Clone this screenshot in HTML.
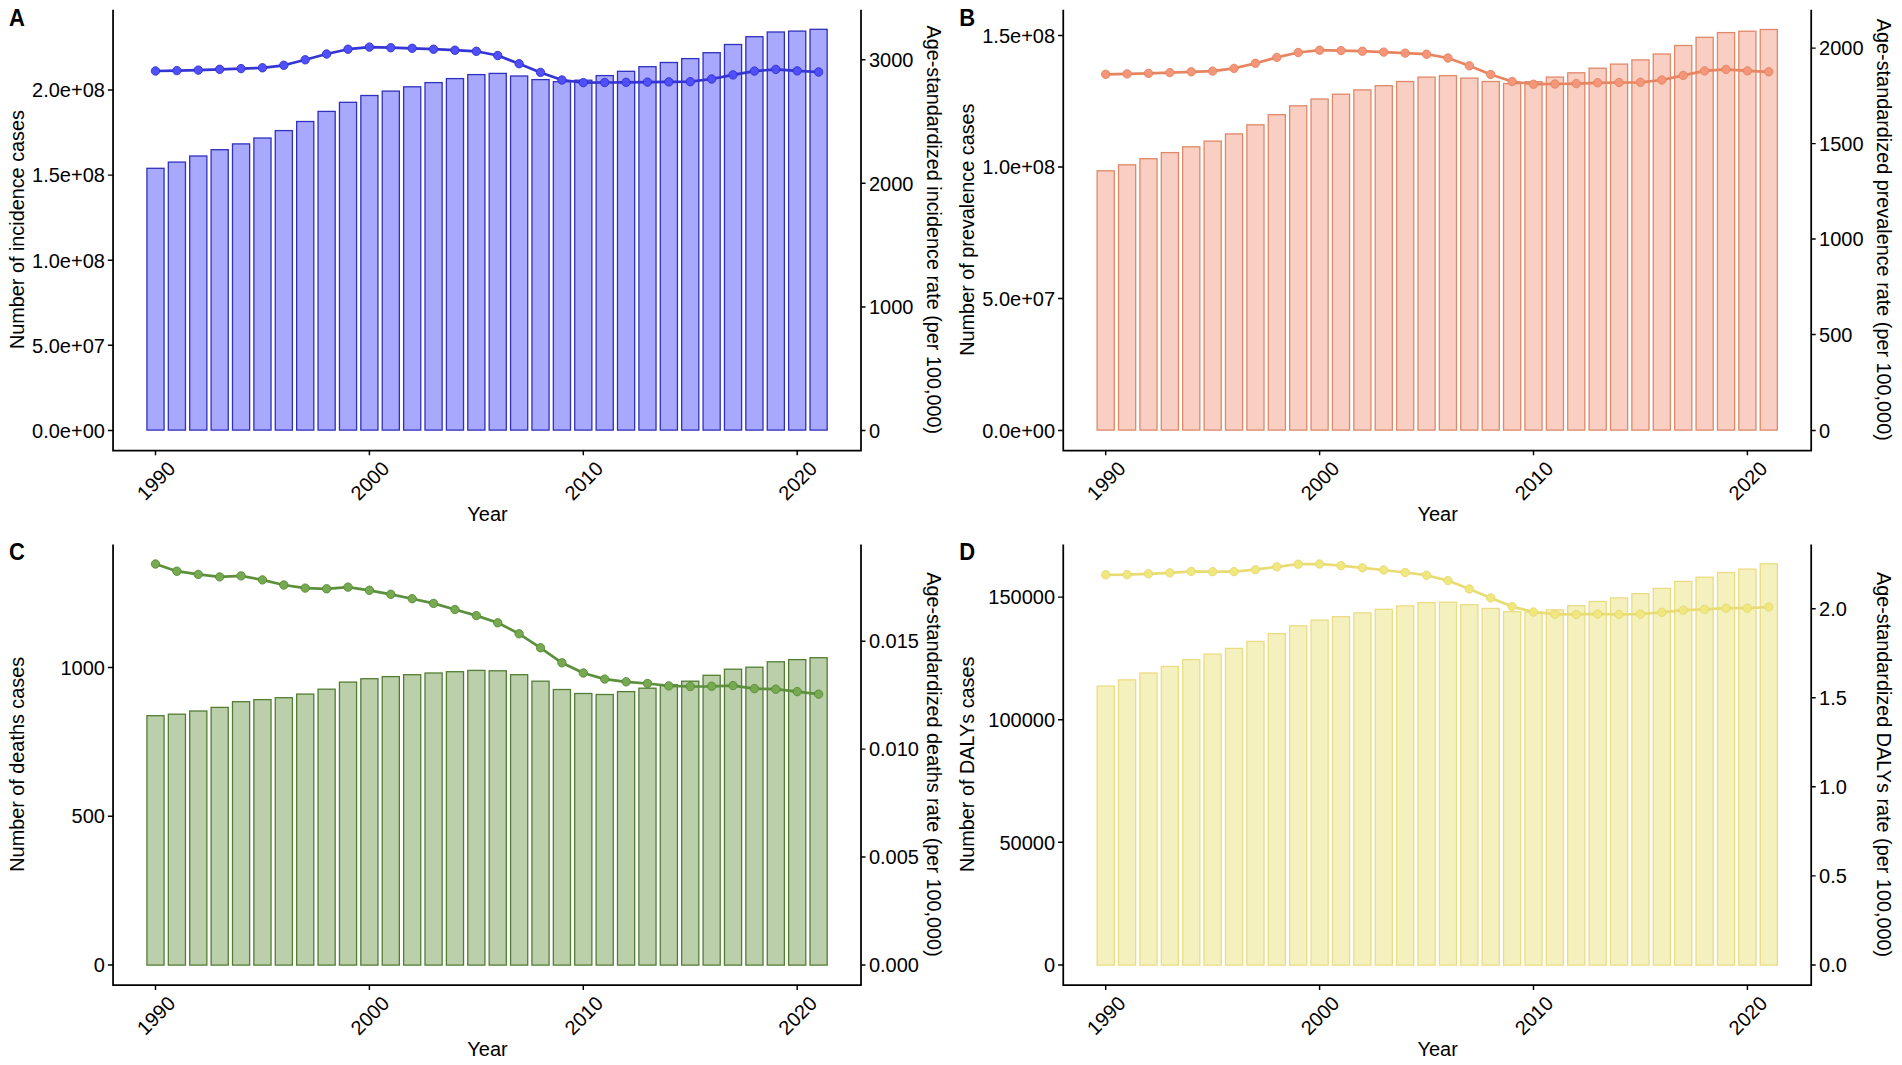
<!DOCTYPE html>
<html lang="en"><head><meta charset="utf-8"><title>Figure</title>
<style>html,body{margin:0;padding:0;background:#fff}body{width:1902px;height:1065px;overflow:hidden}svg{display:block}text{font-family:"Liberation Sans",Arial,sans-serif;font-size:20px;fill:#000}.b{font-weight:bold;font-size:22px}</style></head><body>
<svg width="1902" height="1065" viewBox="0 0 1902 1065">
<rect width="1902" height="1065" fill="#fff"/>
<g transform="translate(0,0)">
<g fill="#A8A8FC" stroke="#3030BE" stroke-width="1.3">
<rect x="146.93" y="168.3" width="17.15" height="261.8"/>
<rect x="168.31" y="162.1" width="17.15" height="268"/>
<rect x="189.71" y="156" width="17.15" height="274.1"/>
<rect x="211.1" y="149.7" width="17.15" height="280.4"/>
<rect x="232.49" y="143.9" width="17.15" height="286.2"/>
<rect x="253.88" y="138" width="17.15" height="292.1"/>
<rect x="275.27" y="130.6" width="17.15" height="299.5"/>
<rect x="296.66" y="121.5" width="17.15" height="308.6"/>
<rect x="318.05" y="111.4" width="17.15" height="318.7"/>
<rect x="339.44" y="102.3" width="17.15" height="327.8"/>
<rect x="360.82" y="95.5" width="17.15" height="334.6"/>
<rect x="382.22" y="91.1" width="17.15" height="339"/>
<rect x="403.61" y="86.8" width="17.15" height="343.3"/>
<rect x="425" y="82.6" width="17.15" height="347.5"/>
<rect x="446.39" y="78.6" width="17.15" height="351.5"/>
<rect x="467.78" y="74.6" width="17.15" height="355.5"/>
<rect x="489.17" y="73.4" width="17.15" height="356.7"/>
<rect x="510.56" y="76" width="17.15" height="354.1"/>
<rect x="531.94" y="79.6" width="17.15" height="350.5"/>
<rect x="553.34" y="81.7" width="17.15" height="348.4"/>
<rect x="574.72" y="80.2" width="17.15" height="349.9"/>
<rect x="596.12" y="75.6" width="17.15" height="354.5"/>
<rect x="617.5" y="71.3" width="17.15" height="358.8"/>
<rect x="638.89" y="66.7" width="17.15" height="363.4"/>
<rect x="660.28" y="62.5" width="17.15" height="367.6"/>
<rect x="681.67" y="58.6" width="17.15" height="371.5"/>
<rect x="703.06" y="52.7" width="17.15" height="377.4"/>
<rect x="724.45" y="44.5" width="17.15" height="385.6"/>
<rect x="745.85" y="36.7" width="17.15" height="393.4"/>
<rect x="767.24" y="32" width="17.15" height="398.1"/>
<rect x="788.62" y="31.1" width="17.15" height="399"/>
<rect x="810.01" y="29.3" width="17.15" height="400.8"/>
</g>
<polyline points="155.5,71 176.89,70.6 198.28,70.1 219.67,69.3 241.06,68.6 262.45,67.8 283.84,65.3 305.23,59.8 326.62,54 348.01,49.2 369.4,47.1 390.79,47.7 412.18,48.3 433.57,49.2 454.96,50.2 476.35,51.3 497.74,55.5 519.13,63.7 540.52,72.4 561.91,80 583.3,82.6 604.69,82.5 626.08,82.3 647.47,82.1 668.86,81.9 690.25,81.7 711.64,79 733.03,74.9 754.42,71.1 775.81,69.4 797.2,70.9 818.59,72" fill="none" stroke="#3535D6" stroke-width="2.7" stroke-linejoin="round"/>
<g fill="#5050FA" stroke="#3030CC" stroke-width="0.9">
<circle cx="155.5" cy="71" r="4.2"/>
<circle cx="176.89" cy="70.6" r="4.2"/>
<circle cx="198.28" cy="70.1" r="4.2"/>
<circle cx="219.67" cy="69.3" r="4.2"/>
<circle cx="241.06" cy="68.6" r="4.2"/>
<circle cx="262.45" cy="67.8" r="4.2"/>
<circle cx="283.84" cy="65.3" r="4.2"/>
<circle cx="305.23" cy="59.8" r="4.2"/>
<circle cx="326.62" cy="54" r="4.2"/>
<circle cx="348.01" cy="49.2" r="4.2"/>
<circle cx="369.4" cy="47.1" r="4.2"/>
<circle cx="390.79" cy="47.7" r="4.2"/>
<circle cx="412.18" cy="48.3" r="4.2"/>
<circle cx="433.57" cy="49.2" r="4.2"/>
<circle cx="454.96" cy="50.2" r="4.2"/>
<circle cx="476.35" cy="51.3" r="4.2"/>
<circle cx="497.74" cy="55.5" r="4.2"/>
<circle cx="519.13" cy="63.7" r="4.2"/>
<circle cx="540.52" cy="72.4" r="4.2"/>
<circle cx="561.91" cy="80" r="4.2"/>
<circle cx="583.3" cy="82.6" r="4.2"/>
<circle cx="604.69" cy="82.5" r="4.2"/>
<circle cx="626.08" cy="82.3" r="4.2"/>
<circle cx="647.47" cy="82.1" r="4.2"/>
<circle cx="668.86" cy="81.9" r="4.2"/>
<circle cx="690.25" cy="81.7" r="4.2"/>
<circle cx="711.64" cy="79" r="4.2"/>
<circle cx="733.03" cy="74.9" r="4.2"/>
<circle cx="754.42" cy="71.1" r="4.2"/>
<circle cx="775.81" cy="69.4" r="4.2"/>
<circle cx="797.2" cy="70.9" r="4.2"/>
<circle cx="818.59" cy="72" r="4.2"/>
</g>
<g stroke="#000" stroke-width="1.75" fill="none">
<path d="M113.05 9.7 V450.5 H861 V9.7"/>
<path d="M107.85 430.4H113.05M107.85 345.3H113.05M107.85 260.2H113.05M107.85 175.1H113.05M107.85 90H113.05M861 430.4H865.5M861 306.9H865.5M861 183.3H865.5M861 59.8H865.5M155.5 450.5V455.3M369.4 450.5V455.3M583.3 450.5V455.3M797.2 450.5V455.3" stroke-width="1.45"/>
</g>
<g text-anchor="end">
<text x="104.9" y="437.7">0.0e+00</text>
<text x="104.9" y="352.6">5.0e+07</text>
<text x="104.9" y="267.5">1.0e+08</text>
<text x="104.9" y="182.4">1.5e+08</text>
<text x="104.9" y="97.3">2.0e+08</text>
</g><g>
<text x="868.9" y="437.7">0</text>
<text x="868.9" y="314.2">1000</text>
<text x="868.9" y="190.6">2000</text>
<text x="868.9" y="67.1">3000</text>
</g><g text-anchor="end">
<text transform="translate(176.6,470.0) rotate(-45)">1990</text>
<text transform="translate(390.5,470.0) rotate(-45)">2000</text>
<text transform="translate(604.4,470.0) rotate(-45)">2010</text>
<text transform="translate(818.3,470.0) rotate(-45)">2020</text>
</g>
<text x="487.5" y="521.4" text-anchor="middle">Year</text>
<text transform="translate(24.1,229.6) rotate(-90) scale(0.991,1)" text-anchor="middle">Number of incidence cases</text>
<text transform="translate(927.2,229.8) rotate(90) scale(0.991,1)" text-anchor="middle">Age-standardized incidence rate (per 100,000)</text>
<text class="b" transform="translate(9.0,25.6) scale(1,1.115)">A</text>
</g>
<g transform="translate(950.2,0)">
<g fill="#F8CFC2" stroke="#E08868" stroke-width="1.3">
<rect x="146.93" y="170.8" width="17.15" height="259.3"/>
<rect x="168.31" y="164.8" width="17.15" height="265.3"/>
<rect x="189.71" y="158.7" width="17.15" height="271.4"/>
<rect x="211.1" y="152.6" width="17.15" height="277.5"/>
<rect x="232.49" y="146.8" width="17.15" height="283.3"/>
<rect x="253.88" y="141.1" width="17.15" height="289"/>
<rect x="275.27" y="133.9" width="17.15" height="296.2"/>
<rect x="296.66" y="124.8" width="17.15" height="305.3"/>
<rect x="318.05" y="114.7" width="17.15" height="315.4"/>
<rect x="339.44" y="105.8" width="17.15" height="324.3"/>
<rect x="360.82" y="99" width="17.15" height="331.1"/>
<rect x="382.22" y="94.2" width="17.15" height="335.9"/>
<rect x="403.61" y="89.9" width="17.15" height="340.2"/>
<rect x="425" y="85.7" width="17.15" height="344.4"/>
<rect x="446.39" y="81.5" width="17.15" height="348.6"/>
<rect x="467.78" y="77.1" width="17.15" height="353"/>
<rect x="489.17" y="75.7" width="17.15" height="354.4"/>
<rect x="510.56" y="78.1" width="17.15" height="352"/>
<rect x="531.94" y="81.5" width="17.15" height="348.6"/>
<rect x="553.34" y="83.6" width="17.15" height="346.5"/>
<rect x="574.72" y="81.7" width="17.15" height="348.4"/>
<rect x="596.12" y="77.1" width="17.15" height="353"/>
<rect x="617.5" y="72.8" width="17.15" height="357.3"/>
<rect x="638.89" y="68.2" width="17.15" height="361.9"/>
<rect x="660.28" y="64.1" width="17.15" height="366"/>
<rect x="681.67" y="59.9" width="17.15" height="370.2"/>
<rect x="703.06" y="54" width="17.15" height="376.1"/>
<rect x="724.45" y="45.5" width="17.15" height="384.6"/>
<rect x="745.85" y="37.3" width="17.15" height="392.8"/>
<rect x="767.24" y="32.6" width="17.15" height="397.5"/>
<rect x="788.62" y="31.2" width="17.15" height="398.9"/>
<rect x="810.01" y="29.5" width="17.15" height="400.6"/>
</g>
<polyline points="155.5,74.3 176.89,73.9 198.28,73.4 219.67,72.6 241.06,71.8 262.45,71.1 283.84,68.4 305.23,63.3 326.62,57.4 348.01,52.5 369.4,50.2 390.79,50.6 412.18,51.2 433.57,52.1 454.96,53.1 476.35,54.2 497.74,58 519.13,65.8 540.52,74.5 561.91,81.5 583.3,84.2 604.69,84 626.08,83.6 647.47,82.8 668.86,82.5 690.25,82.3 711.64,80 733.03,75.4 754.42,70.9 775.81,69.4 797.2,70.9 818.59,71.8" fill="none" stroke="#E88560" stroke-width="2.7" stroke-linejoin="round"/>
<g fill="#F59678" stroke="#E08462" stroke-width="0.9">
<circle cx="155.5" cy="74.3" r="4.2"/>
<circle cx="176.89" cy="73.9" r="4.2"/>
<circle cx="198.28" cy="73.4" r="4.2"/>
<circle cx="219.67" cy="72.6" r="4.2"/>
<circle cx="241.06" cy="71.8" r="4.2"/>
<circle cx="262.45" cy="71.1" r="4.2"/>
<circle cx="283.84" cy="68.4" r="4.2"/>
<circle cx="305.23" cy="63.3" r="4.2"/>
<circle cx="326.62" cy="57.4" r="4.2"/>
<circle cx="348.01" cy="52.5" r="4.2"/>
<circle cx="369.4" cy="50.2" r="4.2"/>
<circle cx="390.79" cy="50.6" r="4.2"/>
<circle cx="412.18" cy="51.2" r="4.2"/>
<circle cx="433.57" cy="52.1" r="4.2"/>
<circle cx="454.96" cy="53.1" r="4.2"/>
<circle cx="476.35" cy="54.2" r="4.2"/>
<circle cx="497.74" cy="58" r="4.2"/>
<circle cx="519.13" cy="65.8" r="4.2"/>
<circle cx="540.52" cy="74.5" r="4.2"/>
<circle cx="561.91" cy="81.5" r="4.2"/>
<circle cx="583.3" cy="84.2" r="4.2"/>
<circle cx="604.69" cy="84" r="4.2"/>
<circle cx="626.08" cy="83.6" r="4.2"/>
<circle cx="647.47" cy="82.8" r="4.2"/>
<circle cx="668.86" cy="82.5" r="4.2"/>
<circle cx="690.25" cy="82.3" r="4.2"/>
<circle cx="711.64" cy="80" r="4.2"/>
<circle cx="733.03" cy="75.4" r="4.2"/>
<circle cx="754.42" cy="70.9" r="4.2"/>
<circle cx="775.81" cy="69.4" r="4.2"/>
<circle cx="797.2" cy="70.9" r="4.2"/>
<circle cx="818.59" cy="71.8" r="4.2"/>
</g>
<g stroke="#000" stroke-width="1.75" fill="none">
<path d="M113.05 9.7 V450.5 H861 V9.7"/>
<path d="M107.85 430.4H113.05M107.85 298.5H113.05M107.85 167H113.05M107.85 35.5H113.05M861 430.4H865.5M861 334.5H865.5M861 239H865.5M861 143.6H865.5M861 48.1H865.5M155.5 450.5V455.3M369.4 450.5V455.3M583.3 450.5V455.3M797.2 450.5V455.3" stroke-width="1.45"/>
</g>
<g text-anchor="end">
<text x="104.9" y="437.7">0.0e+00</text>
<text x="104.9" y="305.8">5.0e+07</text>
<text x="104.9" y="174.3">1.0e+08</text>
<text x="104.9" y="42.8">1.5e+08</text>
</g><g>
<text x="868.9" y="437.7">0</text>
<text x="868.9" y="341.8">500</text>
<text x="868.9" y="246.3">1000</text>
<text x="868.9" y="150.9">1500</text>
<text x="868.9" y="55.4">2000</text>
</g><g text-anchor="end">
<text transform="translate(176.6,470.0) rotate(-45)">1990</text>
<text transform="translate(390.5,470.0) rotate(-45)">2000</text>
<text transform="translate(604.4,470.0) rotate(-45)">2010</text>
<text transform="translate(818.3,470.0) rotate(-45)">2020</text>
</g>
<text x="487.5" y="521.4" text-anchor="middle">Year</text>
<text transform="translate(24.1,229.6) rotate(-90) scale(0.991,1)" text-anchor="middle">Number of prevalence cases</text>
<text transform="translate(927.2,229.8) rotate(90) scale(0.991,1)" text-anchor="middle">Age-standardized prevalence rate (per 100,000)</text>
<text class="b" transform="translate(9.0,25.6) scale(1,1.115)">B</text>
</g>
<g transform="translate(0,534.7)">
<g fill="#BACFAA" stroke="#527E34" stroke-width="1.3">
<rect x="146.93" y="181" width="17.15" height="249.4"/>
<rect x="168.31" y="179.5" width="17.15" height="250.9"/>
<rect x="189.71" y="176.3" width="17.15" height="254.1"/>
<rect x="211.1" y="172.7" width="17.15" height="257.7"/>
<rect x="232.49" y="167" width="17.15" height="263.4"/>
<rect x="253.88" y="164.9" width="17.15" height="265.5"/>
<rect x="275.27" y="163" width="17.15" height="267.4"/>
<rect x="296.66" y="159.4" width="17.15" height="271"/>
<rect x="318.05" y="154.5" width="17.15" height="275.9"/>
<rect x="339.44" y="147.4" width="17.15" height="283"/>
<rect x="360.82" y="144" width="17.15" height="286.4"/>
<rect x="382.22" y="141.9" width="17.15" height="288.5"/>
<rect x="403.61" y="140" width="17.15" height="290.4"/>
<rect x="425" y="138.3" width="17.15" height="292.1"/>
<rect x="446.39" y="137" width="17.15" height="293.4"/>
<rect x="467.78" y="135.7" width="17.15" height="294.7"/>
<rect x="489.17" y="136.1" width="17.15" height="294.3"/>
<rect x="510.56" y="140" width="17.15" height="290.4"/>
<rect x="531.94" y="146.5" width="17.15" height="283.9"/>
<rect x="553.34" y="154.8" width="17.15" height="275.6"/>
<rect x="574.72" y="158.8" width="17.15" height="271.6"/>
<rect x="596.12" y="159.8" width="17.15" height="270.6"/>
<rect x="617.5" y="156.9" width="17.15" height="273.5"/>
<rect x="638.89" y="153.5" width="17.15" height="276.9"/>
<rect x="660.28" y="150.1" width="17.15" height="280.3"/>
<rect x="681.67" y="146.5" width="17.15" height="283.9"/>
<rect x="703.06" y="140.6" width="17.15" height="289.8"/>
<rect x="724.45" y="134.5" width="17.15" height="295.9"/>
<rect x="745.85" y="132.5" width="17.15" height="297.9"/>
<rect x="767.24" y="127.1" width="17.15" height="303.3"/>
<rect x="788.62" y="124.9" width="17.15" height="305.5"/>
<rect x="810.01" y="123" width="17.15" height="307.4"/>
</g>
<polyline points="155.5,29.3 176.89,36.5 198.28,39.7 219.67,42.2 241.06,41.2 262.45,45.2 283.84,50.3 305.23,53.4 326.62,54.1 348.01,52.4 369.4,55.6 390.79,59.6 412.18,64 433.57,68.7 454.96,74.8 476.35,80.9 497.74,88.1 519.13,99.1 540.52,113.1 561.91,128.1 583.3,138.3 604.69,144.4 626.08,147.1 647.47,148.8 668.86,151.2 690.25,151.8 711.64,151.6 733.03,150.9 754.42,153.9 775.81,154.5 797.2,156.9 818.59,159.4" fill="none" stroke="#5C903C" stroke-width="2.7" stroke-linejoin="round"/>
<g fill="#76AA50" stroke="#588A38" stroke-width="0.9">
<circle cx="155.5" cy="29.3" r="4.2"/>
<circle cx="176.89" cy="36.5" r="4.2"/>
<circle cx="198.28" cy="39.7" r="4.2"/>
<circle cx="219.67" cy="42.2" r="4.2"/>
<circle cx="241.06" cy="41.2" r="4.2"/>
<circle cx="262.45" cy="45.2" r="4.2"/>
<circle cx="283.84" cy="50.3" r="4.2"/>
<circle cx="305.23" cy="53.4" r="4.2"/>
<circle cx="326.62" cy="54.1" r="4.2"/>
<circle cx="348.01" cy="52.4" r="4.2"/>
<circle cx="369.4" cy="55.6" r="4.2"/>
<circle cx="390.79" cy="59.6" r="4.2"/>
<circle cx="412.18" cy="64" r="4.2"/>
<circle cx="433.57" cy="68.7" r="4.2"/>
<circle cx="454.96" cy="74.8" r="4.2"/>
<circle cx="476.35" cy="80.9" r="4.2"/>
<circle cx="497.74" cy="88.1" r="4.2"/>
<circle cx="519.13" cy="99.1" r="4.2"/>
<circle cx="540.52" cy="113.1" r="4.2"/>
<circle cx="561.91" cy="128.1" r="4.2"/>
<circle cx="583.3" cy="138.3" r="4.2"/>
<circle cx="604.69" cy="144.4" r="4.2"/>
<circle cx="626.08" cy="147.1" r="4.2"/>
<circle cx="647.47" cy="148.8" r="4.2"/>
<circle cx="668.86" cy="151.2" r="4.2"/>
<circle cx="690.25" cy="151.8" r="4.2"/>
<circle cx="711.64" cy="151.6" r="4.2"/>
<circle cx="733.03" cy="150.9" r="4.2"/>
<circle cx="754.42" cy="153.9" r="4.2"/>
<circle cx="775.81" cy="154.5" r="4.2"/>
<circle cx="797.2" cy="156.9" r="4.2"/>
<circle cx="818.59" cy="159.4" r="4.2"/>
</g>
<g stroke="#000" stroke-width="1.75" fill="none">
<path d="M113.05 9.7 V450.5 H861 V9.7"/>
<path d="M107.85 430.2H113.05M107.85 281.5H113.05M107.85 132.8H113.05M861 430.2H865.5M861 322.3H865.5M861 214.4H865.5M861 106.5H865.5M155.5 450.5V455.3M369.4 450.5V455.3M583.3 450.5V455.3M797.2 450.5V455.3" stroke-width="1.45"/>
</g>
<g text-anchor="end">
<text x="104.9" y="437.5">0</text>
<text x="104.9" y="288.8">500</text>
<text x="104.9" y="140.1">1000</text>
</g><g>
<text x="868.9" y="437.5">0.000</text>
<text x="868.9" y="329.6">0.005</text>
<text x="868.9" y="221.7">0.010</text>
<text x="868.9" y="113.8">0.015</text>
</g><g text-anchor="end">
<text transform="translate(176.6,470.0) rotate(-45)">1990</text>
<text transform="translate(390.5,470.0) rotate(-45)">2000</text>
<text transform="translate(604.4,470.0) rotate(-45)">2010</text>
<text transform="translate(818.3,470.0) rotate(-45)">2020</text>
</g>
<text x="487.5" y="521.4" text-anchor="middle">Year</text>
<text transform="translate(24.1,229.6) rotate(-90) scale(0.991,1)" text-anchor="middle">Number of deaths cases</text>
<text transform="translate(927.2,229.8) rotate(90) scale(0.991,1)" text-anchor="middle">Age-standardized deaths rate (per 100,000)</text>
<text class="b" transform="translate(9.0,25.6) scale(1,1.115)">C</text>
</g>
<g transform="translate(950.2,534.7)">
<g fill="#F5F1BF" stroke="#EBDC82" stroke-width="1.3">
<rect x="146.93" y="151.4" width="17.15" height="279"/>
<rect x="168.31" y="145.2" width="17.15" height="285.2"/>
<rect x="189.71" y="138.3" width="17.15" height="292.1"/>
<rect x="211.1" y="131.7" width="17.15" height="298.7"/>
<rect x="232.49" y="124.9" width="17.15" height="305.5"/>
<rect x="253.88" y="119.4" width="17.15" height="311"/>
<rect x="275.27" y="113.7" width="17.15" height="316.7"/>
<rect x="296.66" y="106.7" width="17.15" height="323.7"/>
<rect x="318.05" y="98.9" width="17.15" height="331.5"/>
<rect x="339.44" y="91.1" width="17.15" height="339.3"/>
<rect x="360.82" y="85.4" width="17.15" height="345"/>
<rect x="382.22" y="82" width="17.15" height="348.4"/>
<rect x="403.61" y="78.2" width="17.15" height="352.2"/>
<rect x="425" y="74.6" width="17.15" height="355.8"/>
<rect x="446.39" y="71.2" width="17.15" height="359.2"/>
<rect x="467.78" y="68" width="17.15" height="362.4"/>
<rect x="489.17" y="67.5" width="17.15" height="362.9"/>
<rect x="510.56" y="70" width="17.15" height="360.4"/>
<rect x="531.94" y="73.7" width="17.15" height="356.7"/>
<rect x="553.34" y="77.1" width="17.15" height="353.3"/>
<rect x="574.72" y="77.4" width="17.15" height="353"/>
<rect x="596.12" y="75.2" width="17.15" height="355.2"/>
<rect x="617.5" y="71" width="17.15" height="359.4"/>
<rect x="638.89" y="66.8" width="17.15" height="363.6"/>
<rect x="660.28" y="63.2" width="17.15" height="367.2"/>
<rect x="681.67" y="59" width="17.15" height="371.4"/>
<rect x="703.06" y="53.7" width="17.15" height="376.7"/>
<rect x="724.45" y="46.7" width="17.15" height="383.7"/>
<rect x="745.85" y="42.5" width="17.15" height="387.9"/>
<rect x="767.24" y="37.8" width="17.15" height="392.6"/>
<rect x="788.62" y="34.4" width="17.15" height="396"/>
<rect x="810.01" y="29.1" width="17.15" height="401.3"/>
</g>
<polyline points="155.5,40.1 176.89,39.9 198.28,39.1 219.67,38.2 241.06,36.7 262.45,37 283.84,36.9 305.23,35 326.62,32.1 348.01,29.5 369.4,29.3 390.79,31 412.18,33.1 433.57,35.3 454.96,37.8 476.35,40.5 497.74,45.9 519.13,54.3 540.52,63.2 561.91,71.9 583.3,77.3 604.69,79.5 626.08,79.7 647.47,79.3 668.86,79.7 690.25,79.3 711.64,77.6 733.03,75.5 754.42,74.6 775.81,73.5 797.2,73.5 818.59,72.3" fill="none" stroke="#E8DC73" stroke-width="2.7" stroke-linejoin="round"/>
<g fill="#F0E87D" stroke="#E4D778" stroke-width="0.9">
<circle cx="155.5" cy="40.1" r="4.2"/>
<circle cx="176.89" cy="39.9" r="4.2"/>
<circle cx="198.28" cy="39.1" r="4.2"/>
<circle cx="219.67" cy="38.2" r="4.2"/>
<circle cx="241.06" cy="36.7" r="4.2"/>
<circle cx="262.45" cy="37" r="4.2"/>
<circle cx="283.84" cy="36.9" r="4.2"/>
<circle cx="305.23" cy="35" r="4.2"/>
<circle cx="326.62" cy="32.1" r="4.2"/>
<circle cx="348.01" cy="29.5" r="4.2"/>
<circle cx="369.4" cy="29.3" r="4.2"/>
<circle cx="390.79" cy="31" r="4.2"/>
<circle cx="412.18" cy="33.1" r="4.2"/>
<circle cx="433.57" cy="35.3" r="4.2"/>
<circle cx="454.96" cy="37.8" r="4.2"/>
<circle cx="476.35" cy="40.5" r="4.2"/>
<circle cx="497.74" cy="45.9" r="4.2"/>
<circle cx="519.13" cy="54.3" r="4.2"/>
<circle cx="540.52" cy="63.2" r="4.2"/>
<circle cx="561.91" cy="71.9" r="4.2"/>
<circle cx="583.3" cy="77.3" r="4.2"/>
<circle cx="604.69" cy="79.5" r="4.2"/>
<circle cx="626.08" cy="79.7" r="4.2"/>
<circle cx="647.47" cy="79.3" r="4.2"/>
<circle cx="668.86" cy="79.7" r="4.2"/>
<circle cx="690.25" cy="79.3" r="4.2"/>
<circle cx="711.64" cy="77.6" r="4.2"/>
<circle cx="733.03" cy="75.5" r="4.2"/>
<circle cx="754.42" cy="74.6" r="4.2"/>
<circle cx="775.81" cy="73.5" r="4.2"/>
<circle cx="797.2" cy="73.5" r="4.2"/>
<circle cx="818.59" cy="72.3" r="4.2"/>
</g>
<g stroke="#000" stroke-width="1.75" fill="none">
<path d="M113.05 9.7 V450.5 H861 V9.7"/>
<path d="M107.85 430.2H113.05M107.85 307.6H113.05M107.85 185H113.05M107.85 62.4H113.05M861 430.2H865.5M861 341.15H865.5M861 252.1H865.5M861 163.05H865.5M861 74H865.5M155.5 450.5V455.3M369.4 450.5V455.3M583.3 450.5V455.3M797.2 450.5V455.3" stroke-width="1.45"/>
</g>
<g text-anchor="end">
<text x="104.9" y="437.5">0</text>
<text x="104.9" y="314.9">50000</text>
<text x="104.9" y="192.3">100000</text>
<text x="104.9" y="69.7">150000</text>
</g><g>
<text x="868.9" y="437.5">0.0</text>
<text x="868.9" y="348.45">0.5</text>
<text x="868.9" y="259.4">1.0</text>
<text x="868.9" y="170.35">1.5</text>
<text x="868.9" y="81.3">2.0</text>
</g><g text-anchor="end">
<text transform="translate(176.6,470.0) rotate(-45)">1990</text>
<text transform="translate(390.5,470.0) rotate(-45)">2000</text>
<text transform="translate(604.4,470.0) rotate(-45)">2010</text>
<text transform="translate(818.3,470.0) rotate(-45)">2020</text>
</g>
<text x="487.5" y="521.4" text-anchor="middle">Year</text>
<text transform="translate(24.1,229.6) rotate(-90) scale(0.991,1)" text-anchor="middle">Number of DALYs cases</text>
<text transform="translate(927.2,229.8) rotate(90) scale(0.991,1)" text-anchor="middle">Age-standardized DALYs rate (per 100,000)</text>
<text class="b" transform="translate(9.0,25.6) scale(1,1.115)">D</text>
</g>
</svg></body></html>
